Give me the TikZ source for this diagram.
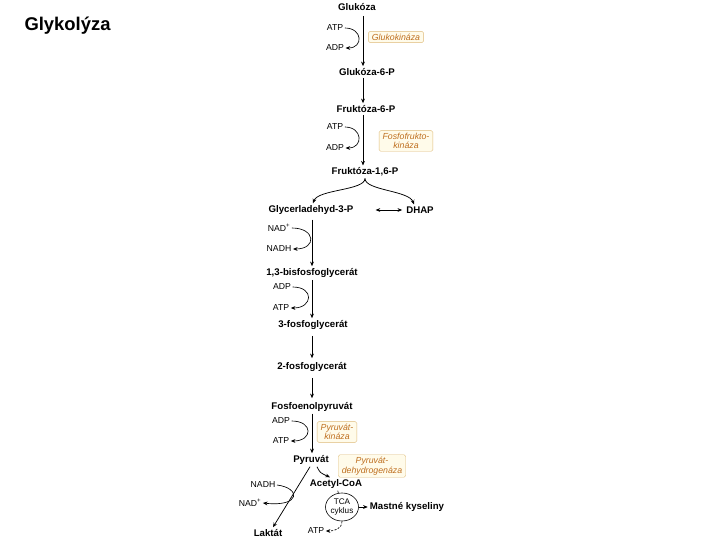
\documentclass[tikz,border=0pt]{standalone}
\usepackage{fontspec}
\setmainfont{Liberation Sans}
\usepackage{tikz}
\usetikzlibrary{positioning,arrows.meta,shapes.geometric}
\usepackage{xcolor}
\definecolor{enztext}{RGB}{190,110,30}
\definecolor{enzline}{RGB}{222,186,120}
\definecolor{enzfill}{RGB}{255,251,234}

\begin{document}
\begin{tikzpicture}[x=1bp,y=-1bp,>={Stealth[length=4.6bp,width=3.8bp]},
  met/.style={font=\bfseries\fontsize{9.7}{11}\selectfont,inner sep=2bp},
  cof/.style={font=\fontsize{8.7}{10}\selectfont,inner sep=1.5bp},
  enz/.style={draw=enzline,fill=enzfill,text=enztext,rounded corners=1.5bp,align=center,
    inner xsep=3.5bp,inner ysep=2.3bp,font=\itshape\fontsize{8.8}{9.6}\selectfont},
  flow/.style={->,line width=0.75bp},
  side/.style={->,line width=0.65bp}]
\useasboundingbox (0,0) rectangle (720,540);
\node[anchor=west,font=\bfseries\fontsize{18.5}{20}\selectfont] (title) at (21,26) {Glykolýza};

% upper part
\coordinate (axa) at (363,0);
\node[met] (glu) at (357,7) {Glukóza};
\node[cof] (atp1) at (335,28) {ATP};
\node[cof] (adp1) at (335,48) {ADP};
\node[enz] (glk) at (396,37) {Glukokináza};
\node[met] (g6p) at (367,72) {Glukóza-6-P};
\node[met] (f6p) at (366,109) {Fruktóza-6-P};
\node[cof] (atp2) at (335,127) {ATP};
\node[cof] (adp2) at (335,148) {ADP};
\node[enz] (pfk) at (406,141) {Fosfofrukto-\\kináza};
\node[met] (f16p) at (365,172) {Fruktóza-1,6-P};

\draw[flow,shorten <=3bp] (glu.south -| axa) -- (g6p.north -| axa);
\draw[flow] (g6p.south -| axa) -- (f6p.north -| axa);
\draw[flow] (f6p.south -| axa) -- (f16p.north -| axa);
\draw[side] (atp1.east) .. controls +(18,0) and +(18,0) .. (adp1.east);
\draw[side] (atp2.east) .. controls +(18,0) and +(18,0) .. (adp2.east);

% triose split
\node[met] (gap) at (311,210) {Glycerladehyd-3-P};
\node[met] (dhap) at (420,210) {DHAP};
\draw[flow] (f16p.south) .. controls +(0,12) and +(5,-14) .. ([xshift=2bp]gap.north);
\draw[flow] (f16p.south) .. controls +(0,12) and +(-5,-14) .. ([xshift=-6bp]dhap.north);
\draw[<->,line width=0.75bp,shorten <=20bp,shorten >=2bp] (gap.east) -- (dhap.west);

% lower part
\coordinate (axb) at (312,0);
\node[cof] (nad1) at (279,228) {NAD\textsuperscript{+}};
\node[cof] (nadh1) at (279,249) {NADH};
\node[met] (bpg) at (312,273) {1,3-bisfosfoglycerát};
\node[cof] (adp3) at (282,287) {ADP};
\node[cof] (atp3) at (281,308) {ATP};
\node[met] (pg3) at (313,325) {3-fosfoglycerát};
\node[met] (pg2) at (312,367) {2-fosfoglycerát};
\node[met] (pep) at (312,407) {Fosfoenolpyruvát};
\node[cof] (adp4) at (281,421) {ADP};
\node[cof] (atp4) at (281,441) {ATP};
\node[enz] (pk) at (337,432) {Pyruvát-\\kináza};
\node[met] (pyr) at (311,460) {Pyruvát};

\draw[flow,shorten <=3bp] (gap.south -| axb) -- (bpg.north -| axb);
\draw[flow] (bpg.south -| axb) -- (pg3.north -| axb);
\draw[flow,shorten <=4bp,shorten >=2bp] (pg3.south -| axb) -- (pg2.north -| axb);
\draw[flow,shorten <=4bp,shorten >=2bp] (pg2.south -| axb) -- (pep.north -| axb);
\draw[flow] (pep.south -| axb) -- (pyr.north -| axb);
\draw[side] (nad1.east) .. controls +(24,0) and +(24,0) .. (nadh1.east);
\draw[side] (adp3.east) .. controls +(22,0) and +(22,0) .. (atp3.east);
\draw[side] (adp4.east) .. controls +(22,0) and +(22,0) .. (atp4.east);

% pyruvate fates
\node[enz] (pdh) at (372,466) {Pyruvát-\\dehydrogenáza};
\node[met] (acoa) at (336,484) {Acetyl-CoA};
\node[cof] (nadh2) at (263,485) {NADH};
\node[cof] (nad2) at (250,503) {NAD\textsuperscript{+}};
\node[met] (lak) at (268,533) {Laktát};
\node[ellipse,draw,line width=0.6bp,minimum width=33bp,minimum height=28bp,inner sep=0pt,
  align=center,font=\fontsize{8.2}{9.5}\selectfont] (tca) at (342,507) {TCA\\cyklus};
\node[met] (mk) at (407,507) {Mastné kyseliny};
\node[cof] (atp5) at (316,531) {ATP};

\draw[flow] ([xshift=6bp]pyr.south) .. controls +(3,6) .. ([xshift=-6bp]acoa.north);
\draw[flow] ([xshift=-1bp]pyr.south) -- ([xshift=5bp]lak.north);
\draw[side] (nadh2.east) .. controls +(24,3) and +(38,4) .. (nad2.east);
\draw[line width=0.6bp] (acoa) -- (tca);
\draw[side] (tca.east) -- (mk.west);
\draw[side,dash pattern=on 2bp off 1.5bp] (tca.south) .. controls +(0,8) and +(8,0) .. (atp5.east);
\end{tikzpicture}
\end{document}
